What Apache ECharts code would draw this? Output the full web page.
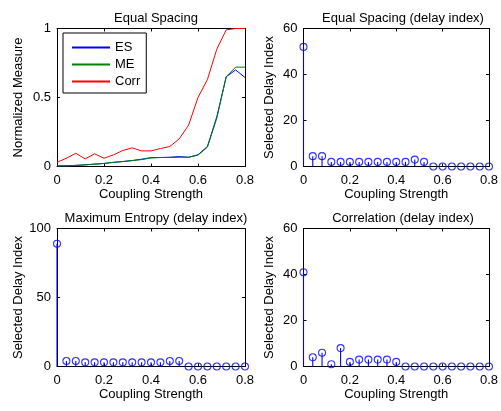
<!DOCTYPE html>
<html>
<head>
<meta charset="utf-8">
<script src="https://cdn.jsdelivr.net/npm/echarts@6/dist/echarts.min.js"></script>
<style>
  html, body { margin: 0; padding: 0; background: #fff; }
  #chart { width: 501px; height: 411px; }
</style>
</head>
<body>
<div id="chart"></div>
<script>
// Coupling strengths (x positions shared by all four panels)
const coupling = [0, 0.04, 0.08, 0.12, 0.16, 0.2, 0.24, 0.28, 0.32, 0.36, 0.4,
                  0.44, 0.48, 0.52, 0.56, 0.6, 0.64, 0.68, 0.72, 0.76, 0.8];

// Normalized measures (top-left panel)
const esMeasure   = [0.005, 0.005, 0.008, 0.012, 0.017, 0.022, 0.03, 0.036, 0.043, 0.053, 0.064,
                     0.065, 0.067, 0.072, 0.067, 0.085, 0.145, 0.36, 0.65, 0.70, 0.645];
const meMeasure   = [0.005, 0.005, 0.008, 0.012, 0.017, 0.022, 0.03, 0.036, 0.043, 0.05, 0.062,
                     0.065, 0.066, 0.067, 0.067, 0.082, 0.14, 0.35, 0.65, 0.72, 0.72];
const corrMeasure = [0.03, 0.06, 0.096, 0.055, 0.092, 0.06, 0.084, 0.116, 0.135, 0.113, 0.113,
                     0.13, 0.145, 0.2, 0.3, 0.5, 0.63, 0.85, 0.99, 1, 1];

// Selected delay indices
const esDelay   = [52, 4.5, 4.5, 2, 2, 2, 2, 2, 2, 2, 2, 2, 3, 2, 0, 0, 0, 0, 0, 0, 0];
const meDelay   = [89, 4, 4, 3, 3, 3, 3, 3, 3, 3, 3, 3, 4, 4, 0, 0, 0, 0, 0, 0, 0];
const corrDelay = [41, 4, 6, 1, 8, 2, 3, 3, 3, 3, 2, 0, 0, 0, 0, 0, 0, 0, 0, 0, 0];

// Axis tick values
const xTicks = [0, 0.2, 0.4, 0.6, 0.8];
const measureTicks = [0, 0.5, 1];
const delayTicks60 = [0, 20, 40, 60];
const delayTicks100 = [0, 50, 100];

const FONT = "'Liberation Sans', Arial, sans-serif";
const FS = 13;
const BLUE = '#0000ff', GREEN = '#008000', RED = '#ff0000';

const panels = [
  { title: 'Equal Spacing', yName: 'Normalized Measure', left: 57, top: 28.5, width: 188, yTicks: measureTicks, nameGap: 32 },
  { title: 'Equal Spacing (delay index)', yName: 'Selected Delay Index', left: 303.5, top: 28.5, width: 189, yTicks: delayTicks60, nameGap: 28 },
  { title: 'Maximum Entropy (delay index)', yName: 'Selected Delay Index', left: 57, top: 228.5, width: 188, yTicks: delayTicks100, nameGap: 32 },
  { title: 'Correlation (delay index)', yName: 'Selected Delay Index', left: 303.5, top: 228.5, width: 189, yTicks: delayTicks60, nameGap: 28 }
];
const PH = 138;

const grid = [], xAxis = [], yAxis = [], title = [], series = [];

const tickStyle = { inside: true, length: 3, lineStyle: { color: '#000', width: 1 } };
const lineStyle = { show: true, onZero: false, lineStyle: { color: '#000', width: 1 } };

panels.forEach((p, i) => {
  grid.push({ left: p.left, top: p.top, width: p.width, height: PH, containLabel: false });
  title.push({
    text: p.title, left: p.left + p.width / 2, top: p.top - 22, textAlign: 'center',
    textStyle: { fontFamily: FONT, fontSize: FS, fontWeight: 'normal', color: '#000' }
  });
  const yMax = p.yTicks[p.yTicks.length - 1];
  const yInt = p.yTicks[1] - p.yTicks[0];
  // bottom x axis with labels
  xAxis.push({
    type: 'value', gridIndex: i, min: xTicks[0], max: xTicks[xTicks.length - 1], interval: 0.2,
    position: 'bottom', axisLine: lineStyle, axisTick: tickStyle, splitLine: { show: false },
    axisLabel: { fontFamily: FONT, fontSize: FS, color: '#000', margin: 7 },
    name: 'Coupling Strength', nameLocation: 'middle', nameGap: 21,
    nameTextStyle: { fontFamily: FONT, fontSize: FS, color: '#000' }
  });
  // top x axis: box edge with ticks only
  xAxis.push({
    type: 'value', gridIndex: i, min: xTicks[0], max: xTicks[xTicks.length - 1], interval: 0.2,
    position: 'top', axisLine: lineStyle, axisTick: tickStyle, splitLine: { show: false },
    axisLabel: { show: false }
  });
  yAxis.push({
    type: 'value', gridIndex: i, min: p.yTicks[0], max: yMax, interval: yInt,
    position: 'left', axisLine: lineStyle, axisTick: tickStyle, splitLine: { show: false },
    axisLabel: { fontFamily: FONT, fontSize: FS, color: '#000', margin: 6 },
    name: p.yName, nameLocation: 'middle', nameGap: p.nameGap, nameRotate: 90,
    nameTextStyle: { fontFamily: FONT, fontSize: FS, color: '#000' }
  });
  yAxis.push({
    type: 'value', gridIndex: i, min: p.yTicks[0], max: yMax, interval: yInt,
    position: 'right', axisLine: lineStyle, axisTick: tickStyle, splitLine: { show: false },
    axisLabel: { show: false }
  });
});

// Top-left: three measure curves
function lineSeries(name, values, color) {
  return {
    name, type: 'line', xAxisIndex: 0, yAxisIndex: 0,
    data: coupling.map((x, k) => [x, values[k]]),
    showSymbol: false, symbol: 'none', color,
    itemStyle: { color }, lineStyle: { color, width: 1 }, silent: true
  };
}
series.push(lineSeries('ES', esMeasure, BLUE));
series.push(lineSeries('ME', meMeasure, GREEN));
series.push(lineSeries('Corr', corrMeasure, RED));

// Stem plots: vertical stems plus open circles
function stem(panelIdx, values) {
  const data = coupling.map((x, k) => [x, values[k]]);
  series.push({
    type: 'custom', xAxisIndex: panelIdx * 2, yAxisIndex: panelIdx * 2, silent: true,
    data,
    renderItem(params, api) {
      const b = api.coord([api.value(0), 0]);
      const t = api.coord([api.value(0), api.value(1)]);
      return { type: 'line', shape: { x1: b[0], y1: b[1], x2: t[0], y2: t[1] },
               style: { stroke: BLUE, lineWidth: 1.1 } };
    }
  });
  series.push({
    type: 'scatter', xAxisIndex: panelIdx * 2, yAxisIndex: panelIdx * 2, silent: true,
    data, symbol: 'circle', symbolSize: 7, clip: false,
    itemStyle: { color: 'rgba(0,0,0,0)', borderColor: BLUE, borderWidth: 1.1 }
  });
}
stem(1, esDelay);
stem(2, meDelay);
stem(3, corrDelay);

// Legend keys: short bars in each series colour
const legendEntries = [['ES', BLUE], ['ME', GREEN], ['Corr', RED]].map(([name, c]) => ({
  name, icon: 'rect',
  itemStyle: { color: c, borderColor: c, borderWidth: 0 },
  lineStyle: { color: c, width: 1 }
}));

const chart = echarts.init(document.getElementById('chart'), null, { renderer: 'canvas' });
chart.setOption({
  animation: false,
  backgroundColor: '#fff',
  title, grid, xAxis, yAxis, series,
  legend: {
    data: legendEntries,
    orient: 'vertical', left: 63, top: 33,
    itemWidth: 38, itemHeight: 2, itemGap: 4,
    padding: [8, 6, 5, 9],
    borderColor: '#000', borderWidth: 1, backgroundColor: '#fff',
    textStyle: { fontFamily: FONT, fontSize: FS, color: '#000' },
    selectedMode: false
  }
});
</script>
</body>
</html>
